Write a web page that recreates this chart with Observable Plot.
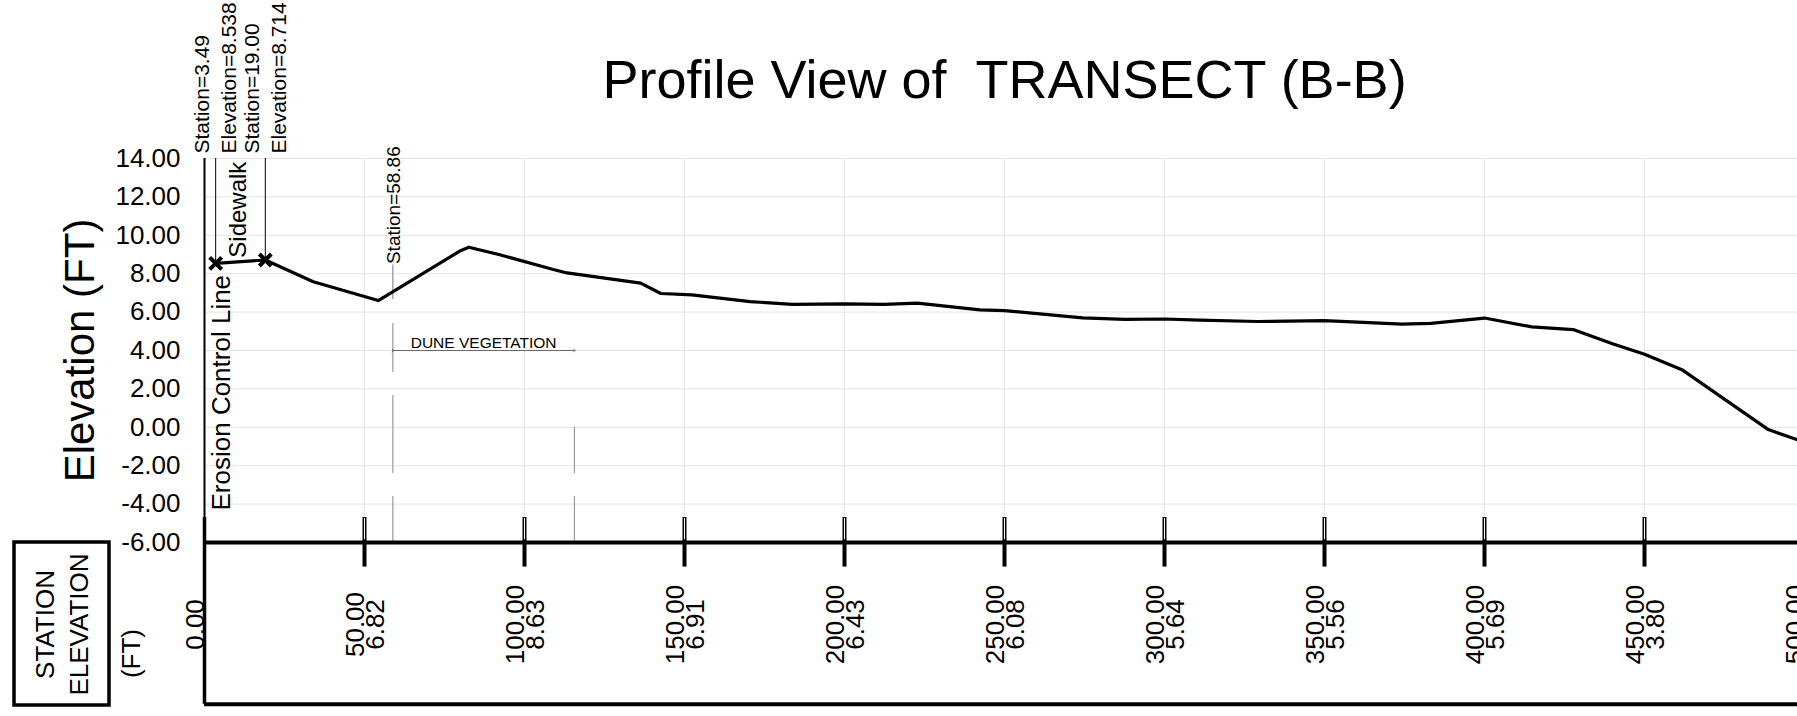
<!DOCTYPE html>
<html>
<head>
<meta charset="utf-8">
<script src="https://cdn.jsdelivr.net/npm/d3@7"></script>
<script src="https://cdn.jsdelivr.net/npm/@observablehq/plot@0.6"></script>
<style>
html, body { margin: 0; padding: 0; background: #fff; overflow: hidden; }
#wrap { position: relative; width: 1797px; height: 716px; overflow: hidden; background: #fff; }
#wrap svg text { white-space: pre; }
</style>
</head>
<body>
<div id="wrap"></div>
<script>
// ---- Data ----
const title = "Profile View of  TRANSECT (B-B)";
const yLabel = "Elevation (FT)";

// profile line (station ft, elevation ft)
const stations   = [3.49, 19.0, 34.0, 54.3, 80.0, 82.6, 92.0, 109.0, 113.3, 136.3, 142.6, 152.3, 170.5, 183.7, 199.8, 212.3, 222.8, 242.3, 250.0, 274.4, 287.7, 300.0, 311.0, 329.0, 350.0, 374.2, 383.2, 400.0, 414.8, 427.7, 440.0, 450.0, 461.9, 488.7, 500.0];
const elevations = [8.538, 8.714, 7.58, 6.60, 9.20, 9.38, 9.00, 8.22, 8.04, 7.51, 6.97, 6.90, 6.55, 6.40, 6.43, 6.40, 6.47, 6.12, 6.08, 5.70, 5.62, 5.64, 5.58, 5.51, 5.56, 5.37, 5.41, 5.69, 5.23, 5.09, 4.35, 3.80, 2.98, -0.12, -0.78];

// marked points (sidewalk)
const markerStations   = [3.49, 19.00];
const markerElevations = [8.538, 8.714];
const sidewalkLabel = "Sidewalk";

// station / elevation table
const tableStations   = [0, 50, 100, 150, 200, 250, 300, 350, 400, 450, 500];
const tableElevations = [null, 6.82, 8.63, 6.91, 6.43, 6.08, 5.64, 5.56, 5.69, 3.80, -0.78];

// y ticks
const yTicks = [-6, -4, -2, 0, 2, 4, 6, 8, 10, 12, 14];

// annotations
const eclStation = 0;
const eclLabel = "Erosion Control Line";
const duneStart = 58.86;
const duneEnd = 115.6;
const duneElevation = 4.0;
const duneLabel = "DUNE VEGETATION";
const duneLeaderTop = 8.45;
const duneLeaderBottom = 6.65;
const duneDashTops = [5.4, 0.0];
const tableBottom = -14.42;   // elevation-equivalent of the table's bottom rule
const tickTop = -4.7, tickBottom = -7.28;

// ---- Build ----
const font = "'Liberation Sans', Arial, Helvetica, sans-serif";
const profile = stations.map((s, i) => ({station: s, elevation: elevations[i]}));
const markers = markerStations.map((s, i) => ({station: s, elevation: markerElevations[i]}));
const table = tableStations.map((s, i) => ({station: s, elevation: tableElevations[i]}));
const tickStations = tableStations.filter(d => d > 0);
const duneDashes = [duneStart, duneEnd].map((s, i) => ({station: s, top: duneDashTops[i]}));

const chart = Plot.plot({
  width: 1844,
  height: 716,
  marginLeft: 204,
  marginRight: 40,
  marginTop: 158,
  marginBottom: 174,
  x: {domain: [0, 500], axis: null},
  y: {domain: [-6, 14], axis: null},
  style: {fontFamily: font, background: "white", maxWidth: "none", overflow: "visible"},
  marks: [
    // grid
    Plot.ruleY(yTicks.filter(d => d > -6), {stroke: "#e4e4e4", strokeWidth: 1}),
    Plot.ruleX(tickStations, {y1: -6, y2: 14, stroke: "#e4e4e4", strokeWidth: 1}),

    // dune vegetation annotation
    Plot.ruleX(duneDashes, {x: "station", y1: -6, y2: "top", stroke: "#9a9a9a", strokeWidth: 1.2, strokeDasharray: "78 23", strokeDashoffset: 32}),
    Plot.ruleX([duneStart], {y1: duneLeaderBottom, y2: duneLeaderTop, stroke: "#8c8c8c", strokeWidth: 1.2}),
    Plot.link([{a: duneStart, b: duneEnd, e: duneElevation}], {x1: "a", x2: "b", y1: "e", y2: "e", stroke: "#333", strokeWidth: 0.7, markerStart: "arrow", markerEnd: "arrow"}),
    Plot.text([{s: (duneStart + duneEnd) / 2, e: duneElevation, t: duneLabel}], {x: "s", y: "e", text: "t", lineAnchor: "bottom", dy: -3, fontSize: 15.5}),
    Plot.text([{s: duneStart, e: duneLeaderTop, t: "Station=" + duneStart.toFixed(2)}], {x: "s", y: "e", text: "t", rotate: -90, textAnchor: "start", dx: 1, dy: -1, fontSize: 19}),

    // frame lines
    Plot.ruleX([eclStation], {y1: -6, y2: 14, strokeWidth: 2}),
    Plot.ruleX([eclStation], {y1: tickTop, y2: tableBottom, strokeWidth: 3.5}),
    Plot.ruleY([-6], {strokeWidth: 4}),
    Plot.ruleY([tableBottom], {strokeWidth: 4}),
    Plot.ruleX(tickStations, {y1: tickTop, y2: tickBottom, strokeWidth: 4}),
    Plot.ruleX(tickStations, {y1: tickTop - 0.05, y2: -5.85, stroke: "white", strokeWidth: 1}),

    // y tick labels
    Plot.text(yTicks, {y: d => d, frameAnchor: "left", dx: -24, textAnchor: "end", text: d => d.toFixed(2), fontSize: 26}),

    // y axis title
    Plot.text([yLabel], {text: d => d, frameAnchor: "left", textAnchor: "middle", lineAnchor: "middle", rotate: -90, dx: -124, fontSize: 42}),

    // title
    Plot.text([title], {text: d => d, frameAnchor: "top", textAnchor: "middle", lineAnchor: "bottom", dy: -61, fontSize: 54}),

    // erosion control line label
    Plot.text([{s: eclStation, t: eclLabel}], {x: "s", y: -6, text: "t", rotate: -90, textAnchor: "start", dx: 17, dy: -32, fontSize: 26}),

    // profile
    Plot.line(profile, {x: "station", y: "elevation", stroke: "black", strokeWidth: 3.2}),

    // marker leaders, markers, labels
    Plot.ruleX(markers, {x: "station", y1: "elevation", y2: 14, stroke: "black", strokeWidth: 1}),
    Plot.dot(markers, {x: "station", y: "elevation", symbol: "times", r: 5.5, stroke: "black", strokeWidth: 4}),
    Plot.text(markers, {x: "station", y: 14, text: d => "Station=" + d.station.toFixed(2), rotate: -90, textAnchor: "start", dx: -13, dy: -5, fontSize: 21}),
    Plot.text(markers, {x: "station", y: 14, text: d => "Elevation=" + d.elevation.toFixed(3), rotate: -90, textAnchor: "start", dx: 14, dy: -5, fontSize: 21}),
    Plot.text([{s: (markerStations[0] + markerStations[1]) / 2, e: (markerElevations[0] + markerElevations[1]) / 2, t: sidewalkLabel}], {x: "s", y: "e", text: "t", rotate: -90, textAnchor: "start", dx: -2.5, dy: -4, fontSize: 24}),

    // table labels
    Plot.text(table, {x: "station", y: -6, text: d => d.station.toFixed(2) + "\n" + (d.elevation == null ? "" : d.elevation.toFixed(2)), rotate: -90, textAnchor: "middle", lineAnchor: "middle", lineHeight: 0.75, dx: 3, dy: 82, fontSize: 26}),

    // table header text
    Plot.text(["STATION\nELEVATION"], {text: d => d, frameAnchor: "bottom-left", textAnchor: "middle", lineAnchor: "middle", rotate: -90, lineHeight: 1.33, dx: -144.5, dy: 82, fontSize: 26}),
    Plot.text(["(FT)"], {text: d => d, frameAnchor: "bottom-left", textAnchor: "middle", lineAnchor: "middle", rotate: -90, dx: -73, dy: 111, fontSize: 26})
  ]
});

// table header box
d3.select(chart).append("rect")
  .attr("x", 14).attr("y", 542).attr("width", 95).attr("height", 163)
  .attr("fill", "none").attr("stroke", "black").attr("stroke-width", 3.5);

document.getElementById("wrap").appendChild(chart);
</script>
</body>
</html>
